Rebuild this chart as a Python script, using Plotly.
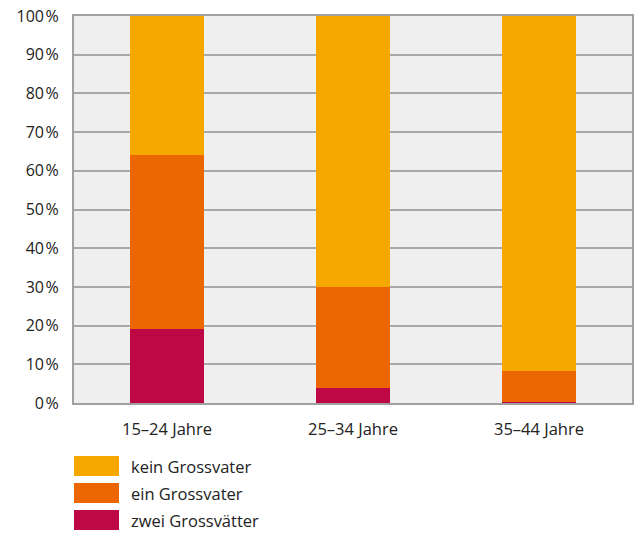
import plotly.graph_objects as go

categories = ["15–24 Jahre", "25–34 Jahre", "35–44 Jahre"]
zwei = [19, 4, 0.3]
ein = [45, 26, 8.0]
kein = [36, 70, 91.7]
series_names = ["kein Grossvater", "ein Grossvater", "zwei Grossvätter"]
colors = ["#F7A800", "#EC6602", "#BE0846"]
tick_vals = [0, 10, 20, 30, 40, 50, 60, 70, 80, 90, 100]
tick_text = [f"{v}\u200a%" for v in tick_vals]

FONT = "Open Sans"
fig = go.Figure()
for name, vals, col in [(series_names[2], zwei, colors[2]),
                        (series_names[1], ein, colors[1]),
                        (series_names[0], kein, colors[0])]:
    fig.add_trace(go.Bar(x=categories, y=vals, name=name, marker=dict(color=col, line=dict(width=0)),
                         width=0.403, showlegend=False))

W, H = 642, 536
ml, mr, mt, mb = 74, 10, 16, 133
pw, ph = W - ml - mr, H - mt - mb

def px_to_paper(x, y):
    return (x - ml) / pw, (H - mb - y) / ph

shapes = []
annotations = []
for i, (name, col) in enumerate(zip(series_names, colors)):
    yc = 466 + i * 27
    x0, y0 = px_to_paper(74, yc - 10)
    x1, y1 = px_to_paper(119, yc + 10)
    shapes.append(dict(type="rect", xref="paper", yref="paper", x0=x0, x1=x1, y0=y1, y1=y0,
                       fillcolor=col, line=dict(width=0)))
    tx, ty = px_to_paper(129, yc)
    annotations.append(dict(xref="paper", yref="paper", x=tx, y=ty, text=name, showarrow=False,
                            xanchor="left", yanchor="middle", font=dict(size=16.5, color="#222222", family=FONT)))

fig.update_layout(
    barmode="stack",
    width=W, height=H,
    margin=dict(l=ml, r=mr, t=mt, b=mb, pad=0, autoexpand=False),
    paper_bgcolor="white",
    plot_bgcolor="#EFEFEF",
    font=dict(family=FONT, size=16, color="#222222"),
    shapes=shapes,
    annotations=annotations,
    xaxis=dict(showgrid=False, showline=True, linecolor="#A0A0A0", linewidth=2, mirror=True,
               ticks="", tickfont=dict(size=16.5), ticklabelstandoff=10, automargin=False),
    yaxis=dict(range=[0, 100], tickmode="array", tickvals=tick_vals, ticktext=tick_text, showgrid=True,
               gridcolor="#A8A8A8", gridwidth=1.5, showline=True, linecolor="#A0A0A0",
               linewidth=2, mirror=True, ticks="", zeroline=False, tickfont=dict(size=16),
               ticklabelstandoff=10, automargin=False),
)
fig.write_html("out.html")
